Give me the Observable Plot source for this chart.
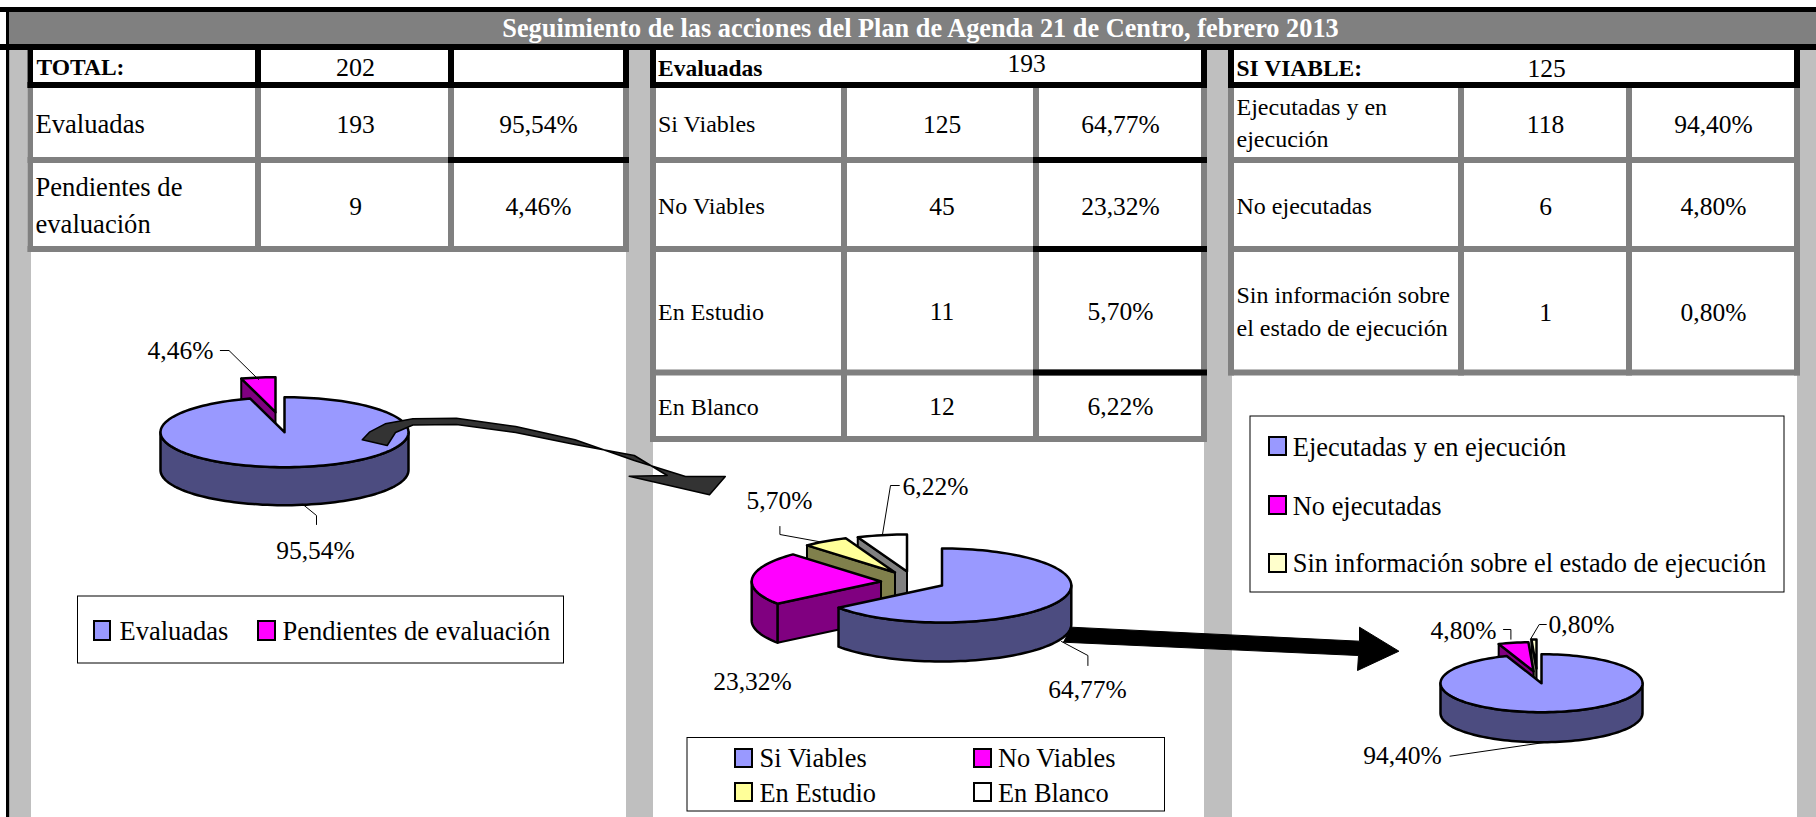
<!DOCTYPE html>
<html><head><meta charset="utf-8">
<script src="https://cdn.jsdelivr.net/npm/d3@7"></script>
<script src="https://cdn.jsdelivr.net/npm/@observablehq/plot@0.6"></script>
<style>html,body{margin:0;padding:0;background:#fff;overflow:hidden}svg{display:block}</style>
</head><body><div id="c"></div>
<script>
// ---- data ----
const title = "Seguimiento de las acciones del Plan de Agenda 21 de Centro, febrero 2013";
const labels1 = ["Evaluadas", "Pendientes de evaluación"];
const counts1 = [193, 9];
const pcts1 = ["95,54%", "4,46%"];
const labels2 = ["Si Viables", "No Viables", "En Estudio", "En Blanco"];
const counts2 = [125, 45, 11, 12];
const pcts2 = ["64,77%", "23,32%", "5,70%", "6,22%"];
const labels3 = ["Ejecutadas y en ejecución", "No ejecutadas", "Sin información sobre el estado de ejecución"];
const counts3 = [118, 6, 1];
const pcts3 = ["94,40%", "4,80%", "0,80%"];
const totals = [202, 193, 125];
const headers = ["TOTAL:", "Evaluadas", "SI VIABLE:"];

// ---- layout / style ----
const W = 1816, H = 817, FONT = "Liberation Serif, Times New Roman, serif";
const GRAY = "#808080", LIGHT = "#bfbfbf", BLACK = "#000";
const topCols = {1:"#9999ff",2:"#ff00ff",3:"#ffff99",4:"#ffffff"};
const sideCols = {1:"#4c4c80",2:"#800080",3:"#80804c",4:"#808080"};
const marks = [];
const rects = (list, fill) => marks.push(Plot.rect(list, {x1:d=>d[0],x2:d=>d[1],y1:d=>d[2],y2:d=>d[3],fill,inset:0}));
const txt = (t,x,y,o={}) => marks.push(Plot.text([t],{x:()=>x,y:()=>y,text:d=>d,fontFamily:FONT,fontSize:25.5,fill:"#000",textAnchor:"middle",lineAnchor:"middle",...o}));
const poly = (pts,fill,stroke,sw,curve="linear") => marks.push(Plot.line(pts,{x:d=>d[0],y:d=>d[1],fill,stroke,strokeWidth:sw,curve,strokeLinejoin:"round"}));

// frame
rects([[0,W,7,12],[0,W,44,50],[6,9.5,7,H]],BLACK);
rects([[9.5,W,12,44]],GRAY);
rects([[9.5,31,50,H],[626,653,50,H],[1204,1232,50,H],[1797,W,50,H]],LIGHT);

// tables
const Rows12 = [50,88,157,163,246,252];
function table(xs, rowLines, blackRows){
  const [x0,x1,c1a,c1b,c2a,c2b,r0,r1] = xs;
  const bottom = rowLines[rowLines.length-1][1];
  rects([[x0,r1,50,bottom]],"#fff");
  const g=[[x0,x1,88,bottom],[c1a,c1b,88,bottom],[c2a,c2b,88,bottom],[r0,r1,88,bottom]];
  rowLines.forEach(r=>g.push([x0,r1,r[0],r[1]]));
  rects(g,GRAY);
  rects([[x0,r1,44,50],[x0,r1,82,88],[x0,x1,50,88],[r0,r1,50,88]],BLACK);
  if(blackRows.length) rects(blackRows.map(r=>[c2a,r1,r[0],r[1]]),BLACK);
}
table([27.5,33,255,261,448,454,623,629],[[157,163],[246,252]],[[157,163]]);
rects([[255,261,50,88],[448,454,50,88]],BLACK);
table([650,656,841,847,1033,1039,1201,1207],[[157,163],[246,252],[369.5,375.5],[436,442]],[[157,163],[246,252],[369.5,375.5]]);
table([1228,1234,1458,1464,1626,1632,1794,1800],[[157,163],[246,252],[369.5,375.5]],[]);
rects([[1234,1794,50,82]],"#fff");

// title, clipped top line
txt(title,920,28,{fill:"#fff",fontWeight:"bold",fontSize:26.3});

// table texts
const hdr={fontWeight:"bold",textAnchor:"start",fontSize:23.5};
const lab=(s)=>({textAnchor:"start",fontSize:s});
txt(headers[0],36,67,{...hdr});
txt(String(totals[0]),355,67,{fontSize:26});
txt(labels1[0],35,124,lab(26.6));
txt("Pendientes de",35,187,lab(26.6));
txt("evaluación",35,224,lab(26.6));
[124,206].forEach((y,i)=>{txt(String(counts1[i]),355,y);txt(pcts1[i],538,y);});

txt(headers[1],657.5,68,{...hdr});
txt(String(totals[1]),1026,63.5);
[124,206,311.7,406.7].forEach((y,i)=>{txt(labels2[i],657.5,y,lab(24));txt(String(counts2[i]),941.5,y);txt(pcts2[i],1120,y);});

txt(headers[2],1236,68,{...hdr});
txt(String(totals[2]),1546,68);
[["Ejecutadas y en",107.3],["ejecución",139.3],[labels3[1],206],["Sin información sobre",295],["el estado de ejecución",328]].forEach(([t,y])=>txt(t,1236,y,lab(24)));
[124,206,312].forEach((y,i)=>{txt(String(counts3[i]),1545,y);txt(pcts3[i],1713,y);});

// arrow 2 (black, under the middle pie)
poly([[1063,641.7],[1070.8,626.7],[1359,640.7],[1359,626.7],[1398.4,650.7],[1357,670],[1358,655],[1063,641.7]],BLACK,BLACK,1);

// pies
function arc(c,a,b,off,dz=0){const n=Math.max(2,Math.ceil(Math.abs(b-a)/0.04)),p=[];
  for(let i=0;i<=n;i++){const t=a+(b-a)*i/n;p.push([c.x+off[0]+c.rx*Math.sin(t),c.y+off[1]+dz-c.ry*Math.cos(t)]);}return p;}
function pie(counts,c,offsets){
  const sum=d3.sum(counts);let acc=0;
  const sl=counts.map((v,i)=>{const a=acc/sum*2*Math.PI;acc+=v;return {a,b:acc/sum*2*Math.PI,i};});
  sl.slice().reverse().forEach(s=>{
    const off=offsets[s.i],ap=[c.x+off[0],c.y+off[1]],col=s.i+1;
    const top=topCols[c.tops?c.tops[s.i]:col], side=c.sides?c.sides[s.i]:sideCols[col];
    const face=(t)=>{const r=[c.x+off[0]+c.rx*Math.sin(t),c.y+off[1]-c.ry*Math.cos(t)];
      poly([ap,r,[r[0],r[1]+c.d],[ap[0],ap[1]+c.d],ap],side,BLACK,2);};
    if(Math.sin(s.a)<-1e-6) face(s.a);
    if(Math.sin(s.b)>1e-6) face(s.b);
    const lo=Math.max(s.a,Math.PI/2),hi=Math.min(s.b,Math.PI*1.5);
    if(hi>lo){const up=arc(c,lo,hi,off),dn=arc(c,hi,lo,off,c.d);poly([...up,...dn,up[0]],side,BLACK,2.5);}
    poly([ap,...arc(c,s.a,s.b,off),ap],top,BLACK,2.5);
  });
}
pie(counts1,{x:284,y:431.7,rx:124,ry:35,d:38},[[0,0],[-9,-20]]);
pie(counts2,{x:941.5,y:585,rx:129.3,ry:37,d:39},[[0,0],[-61,-4],[-47,-13],[-35,-14]]);
topCols[5]="#ffffcc";
pie(counts3,{x:1541,y:682.7,rx:101,ry:29,d:30,tops:[1,2,5],sides:["#4c4c80","#800080","#808066"]},[[0,0],[-8,-12],[-5,-14.7]]);

// curved arrow
poly([[361.8,439.3],[368.9,431.7],[384.7,423.3],[412.4,418.3],[455.9,417.7],[515.2,426],[574.5,439.3],[633.8,460],[685,476],
      [724.8,476],[709,494.3],[628.7,475.7],[666.7,475],[633.8,455],[574.5,444],[515.2,432],[455.9,424],[412.4,424.5],[395,432],[386.7,445],[361.8,439.3]],"#333333",BLACK,1.5,"linear");

// leaders
const leader=(pts)=>marks.push(Plot.line(pts,{x:d=>d[0],y:d=>d[1],stroke:BLACK,strokeWidth:1}));
[[[219.8,350],[228.5,350],[258,379]],[[302.5,504],[316,515],[316,524]],
 [[779.4,526],[779.4,534],[821.7,541.7]],[[898.8,485],[890,485],[882,534]],[[1061,641],[1087.4,655],[1087.4,665]],
 [[1503,629],[1510.4,629],[1510.4,638.7]],[[1545.8,624],[1538.7,624],[1530,638.7]],[[1449.5,755.7],[1545.8,741.7]]].forEach(leader);

// pie labels
txt(pcts1[1],180,350);txt(pcts1[0],315,550);
txt(pcts2[2],779,500);txt(pcts2[3],935,486);txt(pcts2[1],752,681.7);txt(pcts2[0],1087,689.3);
txt(pcts3[1],1463,630);txt(pcts3[2],1581,624);txt(pcts3[0],1402,755.7);

// legends
const box=(x1,x2,y1,y2)=>marks.push(Plot.rect([0],{x1:()=>x1,x2:()=>x2,y1:()=>y1,y2:()=>y2,fill:"#fff",stroke:BLACK,strokeWidth:1,inset:0}));
const sw=(x1,x2,y1,y2,f)=>marks.push(Plot.rect([0],{x1:()=>x1,x2:()=>x2,y1:()=>y1,y2:()=>y2,fill:f,stroke:BLACK,strokeWidth:2,inset:0}));
box(77.5,563.5,596,663);
sw(94,110,621,640,topCols[1]);sw(258,275,621,640,topCols[2]);
txt(labels1[0],119,630.7,lab(26.5));txt(labels1[1],282,630.7,lab(26.5));
box(687,1164.5,737.5,811);
[[735,749,758,759],[974,749,758,997.5],[735,783,792.7,759],[974,783,792.7,997.5]].forEach((p,i)=>{
  sw(p[0],p[0]+17,p[1],p[1]+18,topCols[i+1]);txt(labels2[i],p[3],p[2],lab(26.4));});
box(1250,1784,416,592);
[[437,446.7],[496,506],[554,563]].forEach((p,i)=>{
  sw(1269,1286,p[0],p[0]+18,topCols[[1,2,5][i]]);txt(labels3[i],1292.3,p[1],lab(26.4));});

document.getElementById("c").append(Plot.plot({width:W,height:H,margin:0,axis:null,
  x:{domain:[0,W],range:[0,W]},y:{domain:[0,H],range:[0,H]},
  style:{background:"#fff"},marks}));
</script></body></html>
